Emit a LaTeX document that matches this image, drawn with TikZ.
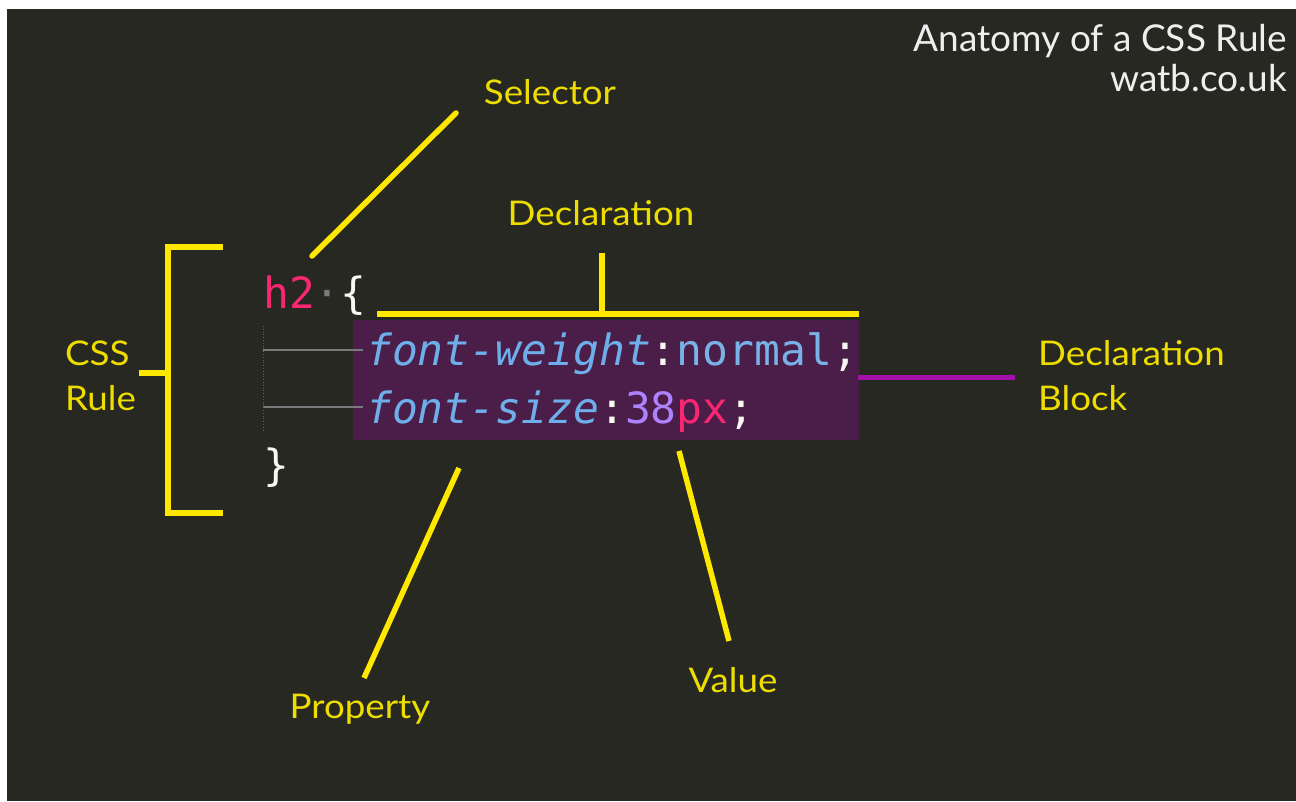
\documentclass[tikz,border=0pt]{standalone}
\usepackage{fontspec}
\setmonofont{DejaVu Sans Mono}
\newfontfamily\labfont[FakeStretch=1.08]{Lato}
\newfontfamily\titlefont{Lato}
\definecolor{bg}{HTML}{272822}
\definecolor{ylw}{HTML}{FFE800}
\definecolor{ylwtext}{HTML}{EEDD00}
\definecolor{selbg}{HTML}{4A1E48}
\definecolor{blockline}{HTML}{A312A8}
\definecolor{pinkc}{HTML}{F92672}
\definecolor{propc}{HTML}{6EAEEA}
\definecolor{valc}{HTML}{78B2E6}
\definecolor{numc}{HTML}{AE81FF}
\definecolor{codew}{HTML}{F8F8F2}
\definecolor{guide}{HTML}{7A7A7A}
\definecolor{titlec}{HTML}{EEEEEE}
\tikzset{
  lbl/.style={inner sep=0pt, text=ylwtext, font=\labfont\fontsize{34}{34}\selectfont},
  code/.style={inner sep=0pt, anchor=base west, font=\ttfamily\fontsize{43}{43}\selectfont, text=codew},
  ttl/.style={inner sep=0pt, anchor=base east, text=titlec, font=\titlefont\fontsize{37}{37}\selectfont},
  yline/.style={draw=ylw, line width=5.5pt},
  guideline/.style={draw=guide, line width=1.2pt},
}
\begin{document}
\begin{tikzpicture}[x=1pt,y=-1pt]
\useasboundingbox (0,0) rectangle (1296,802);
\fill[white] (0,0) rectangle (1296,802);
\fill[bg] (7,9) rectangle (1296,801);

% declaration block background
\fill[selbg] (353,320) rectangle (859,440);

% indent guides
\draw[guideline] (263,350) -- (363,350);
\draw[guideline] (263,407) -- (363,407);
\draw[draw=guide!70!bg, line width=0.8pt, dotted] (263,326) -- (263,432);

% code
\node[code] (sel) at (263,309) {\textcolor{pinkc}{h2}\textcolor{guide}{·}\{};
\node[code] (decl1) at (366,366) {\textcolor{propc}{\itshape font-weight}:\textcolor{valc}{normal};};
\node[code] (decl2) at (366,423) {\textcolor{propc}{\itshape font-size}:\textcolor{numc}{38}\textcolor{pinkc}{px};};
\node[code] (close) at (263,480) {\}};

% title
\node[ttl] (title1) at (1287,52) {Anatomy of a CSS Rule};
\node[ttl] (title2) at (1287,92) {watb.co.uk};

% labels
\node[lbl, anchor=base] (lsel) at (550,105) {Selector};
\node[lbl, anchor=base] (ldecl) at (601,226) {Declaration};
\node[lbl, anchor=base] (lprop) at (360,718) {Property};
\node[lbl, anchor=base] (lval) at (733,692) {Value};
\node[lbl, anchor=base west] (lcss) at (65,365) {CSS};
\node[lbl, anchor=base west] (lrule) at (65,410) {Rule};
\node[lbl, anchor=base west] (lblock1) at (1038,365) {Declaration};
\node[lbl, anchor=base west] (lblock2) at (1038,410) {Block};

% connector coordinates
\coordinate (s1) at (312,256);
\coordinate (s2) at (456,113);
\coordinate (dtop) at (602,253);
\coordinate (dmid) at (602,314);
\coordinate (dl) at (377,314);
\coordinate (dr) at (859,314);
\coordinate (p1) at (459,468);
\coordinate (p2) at (364,678);
\coordinate (v1) at (679,451);
\coordinate (v2) at (729,641);
\coordinate (b1) at (858,377);
\coordinate (b2) at (1015,377);
\coordinate (rtop) at (223,247);
\coordinate (rtl) at (168,247);
\coordinate (rbl) at (168,513);
\coordinate (rbot) at (223,513);
\coordinate (rmid) at (168,373);
\coordinate (rtick) at (139,373);

% connectors
\draw[yline, line cap=round] (s1) -- (s2);
\draw[yline] (dl) -- (dr);
\draw[yline] (dtop) -- (dmid);
\draw[yline] (p1) -- (p2);
\draw[yline] (v1) -- (v2);
\draw[draw=blockline, line width=5pt] (b1) -- (b2);
\draw[yline, line join=miter] (rtop) -- (rtl) -- (rbl) -- (rbot);
\draw[yline] (rtick) -- (rmid);
\end{tikzpicture}
\end{document}
